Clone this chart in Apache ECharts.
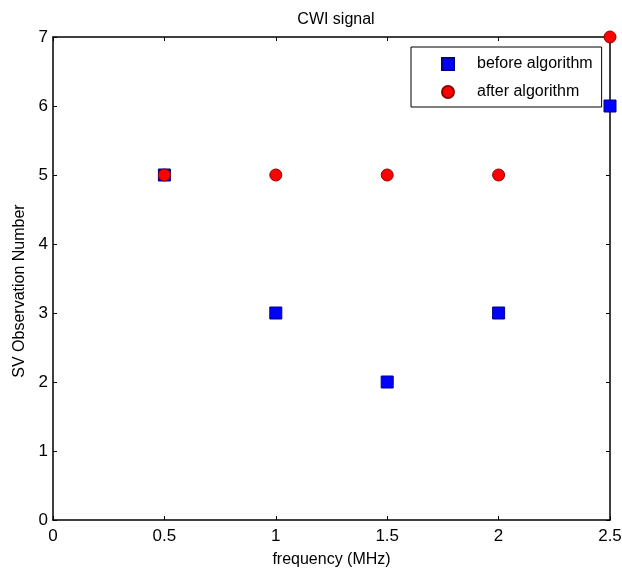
<!DOCTYPE html>
<html><head><meta charset="utf-8">
<script src="https://cdn.jsdelivr.net/npm/echarts@6/dist/echarts.min.js"></script>
<style>html,body{margin:0;padding:0;background:#fff}#c{width:622px;height:569px}</style>
</head><body><div id="c"></div>
<script>
const frequency = [0.5, 1, 1.5, 2, 2.5];
const beforeAlg = [5, 3, 2, 3, 6];
const afterAlg = [5, 5, 5, 5, 7];
const xTicks = [0, 0.5, 1, 1.5, 2, 2.5];
const yTicks = [0, 1, 2, 3, 4, 5, 6, 7];

const font = 'Liberation Sans, Arial, sans-serif';
const chart = echarts.init(document.getElementById('c'));
const axisCommon = {
  axisLine: {show: true, onZero: false, lineStyle: {color: '#000', width: 1.5}},
  axisTick: {show: true, inside: true, length: 4, lineStyle: {color: '#000'}},
  splitLine: {show: false}
};
chart.setOption({
  animation: false,
  title: {text: 'CWI signal', left: 331, top: 7, textAlign: 'center',
    textStyle: {fontFamily: font, fontSize: 16, fontWeight: 'normal', color: '#000'}},
  grid: {left: 53, right: 12, top: 37, bottom: 49, containLabel: false, outerBoundsMode: 'none'},
  legend: {
    orient: 'vertical', left: 411, top: 47,
    padding: [9, 9, 7, 30], itemGap: 12, itemWidth: 12, itemHeight: 12,
    borderColor: '#000', borderWidth: 1, backgroundColor: '#fff',
    textStyle: {fontFamily: font, fontSize: 16, color: '#000', padding: [0, 0, 0, 18]},
    data: ['before algorithm', 'after algorithm']
  },
  graphic: [{
    type: 'text', x: 20, y: 291, rotation: Math.PI / 2,
    style: {text: 'SV Observation Number', fontFamily: font, fontSize: 16, fill: '#000',
      textAlign: 'center', textVerticalAlign: 'middle'}
  }],
  xAxis: [
    Object.assign({type: 'value', min: 0, max: 2.5, interval: 0.5, position: 'bottom',
      name: 'frequency (MHz)', nameLocation: 'middle', nameGap: 32,
      nameTextStyle: {fontFamily: font, fontSize: 16, color: '#000'},
      axisLabel: {fontFamily: font, fontSize: 17, color: '#000', margin: 8,
        formatter: v => xTicks.includes(v) ? String(v) : ''}}, axisCommon),
    Object.assign({type: 'value', min: 0, max: 2.5, interval: 0.5, position: 'top',
      axisLabel: {show: false}}, axisCommon)
  ],
  yAxis: [
    Object.assign({type: 'value', min: 0, max: 7, interval: 1, position: 'left',
      axisLabel: {fontFamily: font, fontSize: 17, color: '#000', margin: 5,
        formatter: v => yTicks.includes(v) ? String(v) : ''}}, axisCommon),
    Object.assign({type: 'value', min: 0, max: 7, interval: 1, position: 'right',
      axisLabel: {show: false}}, axisCommon)
  ],
  series: [
    {name: 'before algorithm', type: 'scatter', symbol: 'rect', symbolSize: 12, clip: false, z: 3,
      itemStyle: {color: '#0000ff', borderColor: '#00008b', borderWidth: 1, opacity: 1},
      data: frequency.map((f, i) => [f, beforeAlg[i]])},
    {name: 'after algorithm', type: 'scatter', symbol: 'circle', symbolSize: 12, clip: false, z: 4,
      itemStyle: {color: '#ff0000', borderColor: '#8b0000', borderWidth: 1, opacity: 1},
      data: frequency.map((f, i) => [f, afterAlg[i]])}
  ]
});
</script></body></html>
